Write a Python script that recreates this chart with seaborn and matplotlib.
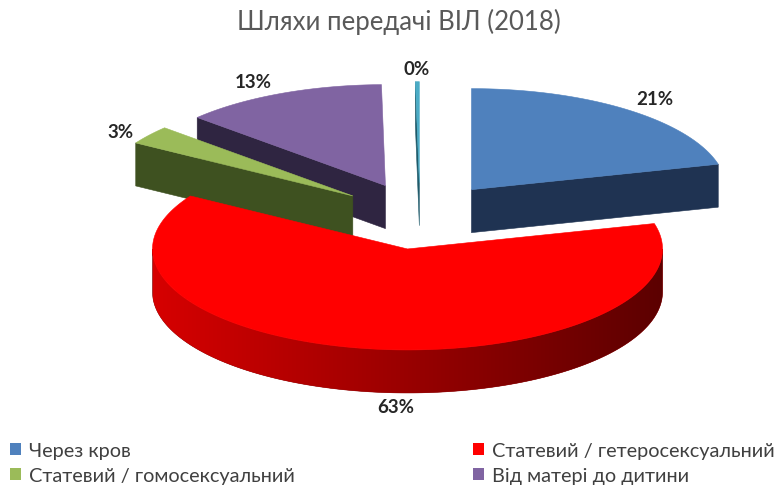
import numpy as np
import matplotlib
matplotlib.use("Agg")
import matplotlib.pyplot as plt
import seaborn as sns
from matplotlib.patches import Polygon, Patch
from matplotlib.colors import to_rgb

# ---- data ----
categories = ["Через кров", "Статевий / гетеросексуальний",
              "Статевий / гомосексуальний", "Від матері до дитини", "Інше"]
values = [21, 63, 3, 13, 0.25]
in_legend = [True, True, True, True, False]
title = "Шляхи передачі ВІЛ (2018)"

# ---- style ----
top_colors = ["#4F81BD", "#FF0000", "#9BBB59", "#8064A2", "#4BACC6"]
side_colors = ["#1F3352", "#8A0000", "#3E5120", "#2F2541", "#1E5A6A"]
label_nudge = [(4, 1), (32, 0), (2, 6), (-12, 2), (0, 2)]

sns.set_theme(style="white")
plt.rcParams['font.family'] = ['Lato', 'DejaVu Sans']

fig = plt.figure(figsize=(7.75, 4.89), dpi=100)
ax = fig.add_axes([0, 0, 1, 1])

CX, CY, RX, RY, DEPTH, EXPL, LF = 420, 217, 255, 101, 43, 0.33, 1.15

total = float(sum(values))
fracs = np.array(values) / total
bounds = np.concatenate([[0], np.cumsum(fracs)]) * 2 * np.pi


def rim(t):
    return np.sin(t) * RX, -np.cos(t) * RY


def darken(c, f):
    r, g, b = to_rgb(c)
    return (r * f, g * f, b * f)


z = [1]


def add_poly(pts, color):
    p = Polygon(pts, closed=True, facecolor=color, edgecolor=color,
                linewidth=0.4, zorder=z[0])
    ax.add_patch(p)
    z[0] += 1
    return p


slices = []
for i, v in enumerate(values):
    t1, t2 = bounds[i], bounds[i + 1]
    tm = (t1 + t2) / 2
    ox, oy = rim(tm)
    apx, apy = CX + EXPL * ox, CY + EXPL * oy
    slices.append((i, t1, t2, tm, apx, apy))

for i, t1, t2, tm, apx, apy in sorted(slices, key=lambda s: s[5]):
    # radial faces
    for t, vis in ((t1, np.sin(t1) < -1e-6), (t2, np.sin(t2) > 1e-6)):
        if vis:
            rx, ry = rim(t)
            pts = [(apx, apy), (apx + rx, apy + ry),
                   (apx + rx, apy + ry + DEPTH), (apx, apy + DEPTH)]
            add_poly(pts, side_colors[i])
    # outer curved face
    a, b = max(t1, np.pi / 2), min(t2, 3 * np.pi / 2)
    if b > a:
        ts = np.linspace(a, b, 200)
        xs = apx + np.sin(ts) * RX
        ys = apy - np.cos(ts) * RY
        pts = list(zip(xs, ys)) + list(zip(xs[::-1], ys[::-1] + DEPTH))
        p = add_poly(pts, side_colors[i])
        c1 = np.array(darken(top_colors[i], 0.84))
        c2 = np.array(darken(top_colors[i], 0.36))
        w = np.linspace(0, 1, 256)[None, :, None]
        grad = c1 * (1 - w) + c2 * w
        im = ax.imshow(grad, extent=[xs.min(), xs.max(), ys.max() + DEPTH, ys.min()],
                       aspect='auto', zorder=z[0], interpolation='bilinear')
        im.set_clip_path(p)
        z[0] += 1
    # top face
    ts = np.linspace(t1, t2, max(3, int((t2 - t1) * 60)))
    pts = [(apx, apy)] + [(apx + np.sin(t) * RX, apy - np.cos(t) * RY) for t in ts]
    add_poly(pts, top_colors[i])

# labels
for i, t1, t2, tm, apx, apy in slices:
    rx, ry = rim(tm)
    lx = apx + LF * rx + label_nudge[i][0]
    ly = apy + LF * ry + (DEPTH if np.cos(tm) < 0 else 0) + label_nudge[i][1]
    ax.text(lx, ly, f"{round(values[i] / total * 100)}%", ha='center', va='center',
            fontsize=13.5, fontweight='bold', color='#262626', zorder=200)

ax.set_xlim(0, 775)
ax.set_ylim(489, 0)
ax.axis('off')

fig.text(0.515, 1 - 22 / 489, title, ha='center', va='center', fontsize=18.5, color='#595959')

order = [0, 2, 1, 3]
handles = [Patch(facecolor=top_colors[k], edgecolor='none') for k in order if in_legend[k]]
labels = [categories[k] for k in order if in_legend[k]]
fig.legend(handles, labels, ncol=2, loc='upper left', bbox_to_anchor=(10 / 775, 1 - 443 / 489),
           frameon=False, fontsize=14.3, handlelength=0.55, handleheight=0.55,
           handletextpad=0.4, columnspacing=9.0, labelspacing=0.42,
           labelcolor='#404040', borderaxespad=0, borderpad=0)

fig.savefig("out.png", dpi=100)
